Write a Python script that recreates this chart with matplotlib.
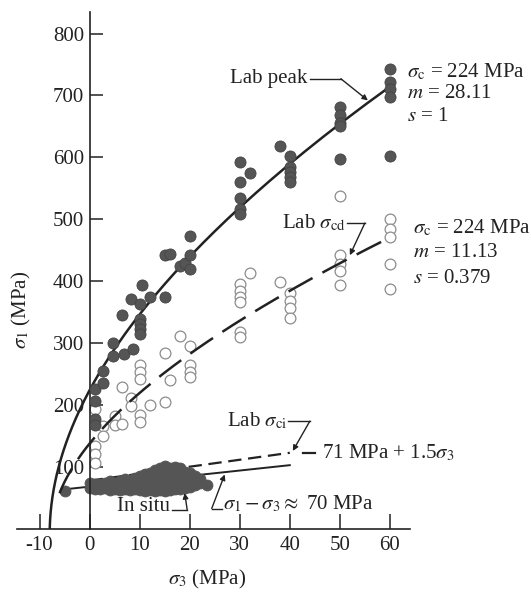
import matplotlib.pyplot as plt
import numpy as np

plt.rcParams["font.family"] = ["Liberation Serif", "DejaVu Serif"]
plt.rcParams["mathtext.fontset"] = "stix"

INK = "#222222"
DOT = "#555555"
RING = "#8c8c8c"

# Hoek-Brown parameters printed on the chart
sig_c = 224.0
peak_m, peak_s = 28.11, 1.0
cd_m, cd_s = 11.13, 0.379

# Lab peak strength (filled circles)
peak_s3 = [1, 1, 1, 1, 2.7, 2.7, 4.6, 4.6, 6.8, 6.5, 8.6, 8.3, 10, 10.5, 12, 15,
           10, 10, 10, 10, 15, 16, 18, 19, 20, 20, 20,
           30, 32, 30, 30, 30, 30, 38, 40, 40, 40, 40, 40,
           50, 50, 50, 50, 50, 60, 60, 60, 60, 60]
peak_s1 = [226, 207, 178, 168, 255, 236, 300, 279, 282, 345, 290, 372, 363, 394, 374, 374,
           339, 331, 323, 315, 442, 444, 424, 430, 443, 419, 473,
           592, 575, 561, 535, 516, 508, 619, 602, 585, 577, 569, 561,
           682, 669, 656, 650, 598, 743, 721, 710, 697, 602]

# Lab crack damage stress (open circles)
cd_s3 = [1, 1, 1, 1, 2.7, 2.7, 5, 5, 6.5, 6.5, 8.3, 8.3,
         10, 10, 10, 10, 10, 12, 15, 15, 16, 18, 20, 20, 20, 20,
         32, 30, 30, 30, 30, 30, 30, 38, 40, 40, 40, 40,
         50, 50, 50, 50, 50, 60, 60, 60, 60, 60]
cd_s1 = [194, 134, 121, 106, 166, 150, 182, 168, 169, 230, 211, 199,
         264, 253, 242, 184, 172, 200, 205, 284, 241, 311, 295, 264, 254, 245,
         414, 395, 384, 374, 366, 318, 310, 398, 381, 368, 356, 340,
         537, 442, 428, 416, 394, 500, 485, 472, 428, 388]

# In situ measurements (dense cloud)
insitu_s3 = [-5,
             0, 0, 1, 1, 2, 2, 3, 3, 4, 4, 4, 5, 5, 6, 6, 6, 7, 7, 7, 8, 8, 8, 9, 9, 9,
             10, 10, 10, 10, 11, 11, 11, 11, 12, 12, 12, 12,
             13, 13, 13, 13, 13, 14, 14, 14, 14, 14, 15, 15, 15, 15, 15, 15,
             16, 16, 16, 16, 16, 17, 17, 17, 17, 17, 18, 18, 18, 18, 18,
             19, 19, 19, 19, 20, 20, 20, 20, 21, 21, 21, 22, 22, 23.5]
insitu_s1 = [62,
             66, 74, 65, 73, 64, 72, 66, 75, 63, 72, 78, 65, 74, 63, 70, 78, 64, 73, 80, 63, 71, 79, 64, 72, 82,
             63, 72, 81, 86, 62, 70, 79, 88, 63, 71, 80, 90,
             62, 70, 79, 88, 96, 63, 71, 80, 89, 98, 62, 70, 79, 88, 97, 101,
             63, 71, 80, 90, 99, 64, 72, 81, 90, 100, 65, 73, 82, 91, 98,
             66, 74, 83, 92, 68, 76, 84, 90, 71, 79, 86, 74, 81, 71]

# straight lines
ci_line_s3 = [0, 40]
ci_line_s1 = [78, 123]
insitu_line_s3 = [-5, 40]
insitu_line_s1 = [64, 103]

x_ticks = [-10, 0, 10, 20, 30, 40, 50, 60]
y_ticks = [100, 200, 300, 400, 500, 600, 700, 800]


def hoek_brown(s3, m, s):
    return s3 + sig_c * np.sqrt(np.clip(m * s3 / sig_c + s, 0, None))


def leader(ax, start, corner, tip):
    ax.plot([start[0], corner[0]], [start[1], corner[1]], color=INK, lw=1, clip_on=False)
    ax.annotate("", xy=tip, xytext=corner,
                arrowprops=dict(arrowstyle="-|>", color=INK, lw=1, mutation_scale=8,
                                shrinkA=0, shrinkB=0))


fig = plt.figure(figsize=(5.31, 5.93), dpi=100)
ax = fig.add_axes([0.032, 0.108, 0.74, 0.872])
ax.set_xlim(-14.5, 64)
ax.set_ylim(0, 835)

# envelopes
lim_peak = -sig_c * peak_s / peak_m
s3_peak = lim_peak + np.geomspace(1e-6, 60 - lim_peak, 500)
ax.plot(s3_peak, hoek_brown(s3_peak, peak_m, peak_s), color=INK, lw=1.8, zorder=3)

s3_cd = np.linspace(-6.0, 60, 400)
ax.plot(s3_cd, hoek_brown(s3_cd, cd_m, cd_s), color=INK, lw=1.8,
        dashes=(11, 4.5), zorder=3)

ax.plot(ci_line_s3, ci_line_s1, color=INK, lw=1.6, dashes=(6, 3), zorder=1)
ax.plot(insitu_line_s3, insitu_line_s1, color=INK, lw=1.4, zorder=1)

# data
ax.scatter(cd_s3, cd_s1, s=60, facecolor="white", edgecolor=RING, lw=0.9, zorder=2)
ax.scatter(peak_s3, peak_s1, s=64, facecolor=DOT, edgecolor="#444444", lw=0.6, zorder=4)
ax.scatter(insitu_s3, insitu_s1, s=62, facecolor=DOT, edgecolor=DOT, lw=0.6, zorder=2)

# axes styling
for side in ["top", "right"]:
    ax.spines[side].set_visible(False)
ax.spines["left"].set_position(("data", 0))
for side in ["left", "bottom"]:
    ax.spines[side].set_linewidth(1.2)
    ax.spines[side].set_color(INK)
ax.set_xticks(x_ticks)
ax.set_yticks(y_ticks)
ax.tick_params(axis="x", direction="in", length=11, width=1.1, pad=5, labelsize=15, colors=INK)
ax.tick_params(axis="y", direction="in", length=9.5, width=1.1, pad=4, labelsize=15, colors=INK)
ax.set_xticklabels([str(v) for v in x_ticks])

fig.text(0.040, 0.477, r"$\sigma_1$ (MPa)", rotation=90, ha="center", va="center",
         fontsize=15, color=INK)
fig.text(0.39, 0.022, r"$\sigma_3$ (MPa)", ha="center", va="center", fontsize=15, color=INK)

fs = 15
# Lab peak
ax.text(43.5, 728, "Lab peak", ha="right", va="center", fontsize=fs, color=INK)
leader(ax, (44.0, 727), (50.2, 727), (55.6, 692))
for y, t in zip([738, 703, 666],
                [r"$\sigma_{\rm c}$ = 224 MPa", r"$m$ = 28.11", r"$s$ = 1"]):
    ax.text(63.4, y, t, ha="left", va="center", fontsize=fs, color=INK)

# Lab sigma_cd
ax.text(51.2, 494, r"Lab $\sigma_{\rm cd}$", ha="right", va="center", fontsize=fs, color=INK)
leader(ax, (51.4, 494), (55.0, 494), (52.0, 442))
for y, t in zip([486, 447, 405],
                [r"$\sigma_{\rm c}$ = 224 MPa", r"$m$ = 11.13", r"$s$ = 0.379"]):
    ax.text(64.6, y, t, ha="left", va="center", fontsize=fs, color=INK)

# Lab sigma_ci
ax.text(39.4, 174, r"Lab $\sigma_{\rm ci}$", ha="right", va="center", fontsize=fs, color=INK)
leader(ax, (39.6, 174), (44.0, 174), (40.6, 126))
ax.plot([42.6, 45.0], [123, 123], color=INK, lw=1.6, clip_on=False)
ax.text(46.4, 123, r"71 MPa + 1.5$\sigma_3$", ha="left", va="center", fontsize=fs, color=INK)

# In situ
ax.text(16.1, 37, "In situ", ha="right", va="center", fontsize=fs, color=INK)
leader(ax, (16.5, 31), (19.5, 31), (19.0, 58))
ax.text(26.6, 40, r"$\sigma_1 - \sigma_3 \approx$ 70 MPa", ha="left", va="center",
        fontsize=fs, color=INK)
leader(ax, (26.4, 33), (24.4, 33), (27.0, 88))

fig.savefig("out.png", dpi=100)
